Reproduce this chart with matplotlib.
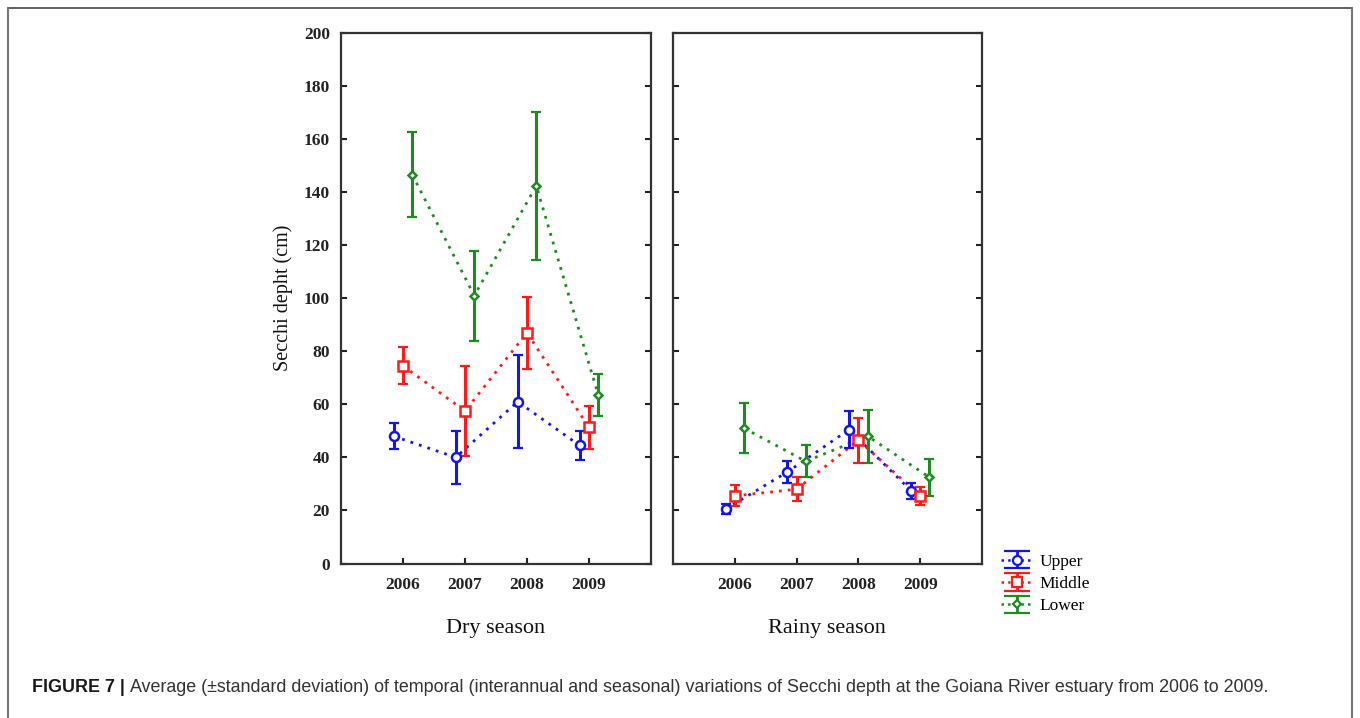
import matplotlib
matplotlib.use("Agg")
import matplotlib.pyplot as plt
from matplotlib.lines import Line2D

years = [2006, 2007, 2008, 2009]
year_labels = ["2006", "2007", "2008", "2009"]
series_names = ["Upper", "Middle", "Lower"]

dry_upper = [48, 40, 61, 44.5]
dry_upper_sd = [5, 10, 17.5, 5.5]
dry_middle = [74.5, 57.5, 87, 51.3]
dry_middle_sd = [7, 17, 13.5, 8]
dry_lower = [146.5, 101, 142.4, 63.5]
dry_lower_sd = [16, 17, 28, 7.8]

rainy_upper = [20.5, 34.5, 50.5, 27.5]
rainy_upper_sd = [2, 4, 7, 3]
rainy_middle = [25.5, 28, 46.5, 25.5]
rainy_middle_sd = [4, 4.5, 8.5, 3.5]
rainy_lower = [51, 38.5, 48, 32.5]
rainy_lower_sd = [9.5, 6, 10, 7]

yticks = [0, 20, 40, 60, 80, 100, 120, 140, 160, 180, 200]

colors = ["#1414f0", "#ff1a1a", "#1f8a1f"]
markers = ["o", "s", "D"]
msizes = [6.5, 6.5, 4.5]
offsets = [-0.15, 0.0, 0.15]

W, H = 1360, 718
fig = plt.figure(figsize=(W / 100, H / 100), dpi=100)
serif = ["Liberation Serif", "DejaVu Serif"]

def px(x0, y0, x1, y1):
    return [x0 / W, 1 - y1 / H, (x1 - x0) / W, (y1 - y0) / H]

ax1 = fig.add_axes(px(341, 33, 651, 563.5))
ax2 = fig.add_axes(px(673, 33, 982, 563.5))

panels = [
    (ax1, [(dry_upper, dry_upper_sd), (dry_middle, dry_middle_sd), (dry_lower, dry_lower_sd)]),
    (ax2, [(rainy_upper, rainy_upper_sd), (rainy_middle, rainy_middle_sd), (rainy_lower, rainy_lower_sd)]),
]

for ax, data in panels:
    for i, (vals, sds) in enumerate(data):
        xs = [y + offsets[i] for y in years]
        c = colors[i]
        ax.plot(xs, vals, linestyle=(0, (1, 2.2)), color=c, lw=2.0, zorder=2)
        ax.errorbar(xs, vals, yerr=sds, fmt="none", ecolor=c, elinewidth=2.2,
                    capsize=3.5, capthick=1.6, zorder=3)
        ax.plot(xs, vals, linestyle="none", marker=markers[i], ms=msizes[i],
                mfc="white", mec=c, mew=1.8, zorder=4)
    ax.set_xlim(2005, 2010)
    ax.set_ylim(0, 200)
    ax.set_xticks(years)
    ax.set_yticks(yticks)
    ax.tick_params(direction="in", length=4, width=1.5, color="#222222",
                   right=True, top=False, labelsize=12.5)
    ax.tick_params(axis="x", pad=10)
    ax.tick_params(axis="y", pad=8)
    for s in ax.spines.values():
        s.set_linewidth(1.6)
        s.set_color("#333333")
    for lab in ax.get_xticklabels() + ax.get_yticklabels():
        lab.set_fontfamily(serif)
        lab.set_fontweight("bold")
        lab.set_color("#222222")

ax1.set_xticklabels(year_labels)
ax2.set_xticklabels(year_labels)
ax2.set_yticklabels([])

fig.text(496 / W, 1 - 628 / H, "Dry season", ha="center", va="center",
         fontsize=16, family=serif, color="#111111")
fig.text(827 / W, 1 - 628 / H, "Rainy season", ha="center", va="center",
         fontsize=16, family=serif, color="#111111")
fig.text(283 / W, 1 - 298 / H, "Secchi depht (cm)", ha="center", va="center",
         rotation=90, fontsize=14.5, family=serif, color="#111111")

# legend
handles = []
for i, name in enumerate(series_names):
    h = ax2.errorbar([0], [0], yerr=[1], fmt=markers[i] + ":", color=colors[i],
                     ms=msizes[i], mfc="white", mec=colors[i], mew=1.6,
                     elinewidth=2, capsize=9.5, capthick=2, lw=1.8)
    handles.append(h)
leg = fig.legend(handles, series_names, loc="center left",
                 bbox_to_anchor=(992 / W, 1 - 584 / H), frameon=False,
                 prop={"family": serif, "size": 12.5}, handlelength=1.9,
                 handletextpad=0.35, labelspacing=0.35, borderpad=0)

# outer frame
border = "#777777"
fig.add_artist(Line2D([8 / W, 1352 / W], [1 - 8 / H, 1 - 8 / H], color="#444444", lw=1.2,
                      transform=fig.transFigure))
fig.add_artist(Line2D([8 / W, 8 / W], [1 - 8 / H, 0], color=border, lw=1.5,
                      transform=fig.transFigure))
fig.add_artist(Line2D([1352 / W, 1352 / W], [1 - 8 / H, 0], color=border, lw=1.5,
                      transform=fig.transFigure))

# caption
cap_y = 1 - 687 / H
t1 = fig.text(32 / W, cap_y, "FIGURE 7 |", fontsize=12.9, fontweight="bold",
              family=["Liberation Sans", "DejaVu Sans"], va="center", color="#1a1a1a")
fig.canvas.draw()
bb = t1.get_window_extent()
fig.text((bb.x1 + 5) / W, cap_y,
         "Average (\u00b1standard deviation) of temporal (interannual and seasonal) variations of Secchi depth at the Goiana River estuary from 2006 to 2009.",
         fontsize=12.9, family=["Liberation Sans", "DejaVu Sans"], va="center", color="#333333")

fig.savefig("out.png", dpi=100)
